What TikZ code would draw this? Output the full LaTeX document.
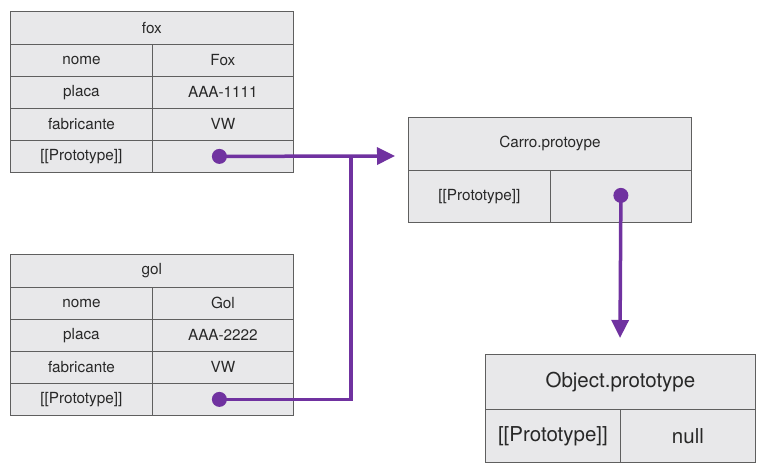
\documentclass[tikz,border=0pt]{standalone}
\usepackage{fontspec}
\setmainfont{TeX Gyre Heros}
\usepackage{tikz}
\usetikzlibrary{arrows.meta}

\definecolor{cellgray}{RGB}{232,232,234}
\definecolor{rulegray}{RGB}{95,95,95}
\definecolor{textgray}{RGB}{40,40,40}
\definecolor{protopurple}{RGB}{112,50,160}

\tikzset{
  cell/.style={draw=rulegray, line width=0.8pt, fill=cellgray, inner sep=0pt,
    anchor=north west, minimum height=32pt, text=textgray,
    font=\fontsize{15.3}{17}\selectfont},
  keycell/.style={cell, minimum width=142pt},
  valcell/.style={cell, minimum width=141pt},
  bigcell/.style={cell, minimum width=135pt, minimum height=53pt,
    font=\fontsize{20.5}{23}\selectfont},
  link/.style={draw=protopurple, line width=3.5pt},
  dot/.style={fill=protopurple},
}

\begin{document}
\begin{tikzpicture}[x=1pt, y=-1pt]
  \useasboundingbox (0, 0) rectangle (767, 470);

  % fox
  \node[cell, minimum width=283pt, minimum height=33pt] (fox) at (10, 11) {fox};
  \node[keycell] (foxnomek) at (10, 44) {nome};
  \node[valcell] (foxnomev) at (152, 44) {Fox};
  \node[keycell] (foxplacak) at (10, 76) {placa};
  \node[valcell] (foxplacav) at (152, 76) {AAA-1111};
  \node[keycell] (foxfabk) at (10, 108) {fabricante};
  \node[valcell] (foxfabv) at (152, 108) {VW};
  \node[keycell] (foxprotok) at (10, 140) {[[Prototype]]};
  \node[valcell] (foxprotov) at (152, 140) {};

  % gol
  \node[cell, minimum width=283pt, minimum height=33pt] (gol) at (10, 254) {gol};
  \node[keycell] (golnomek) at (10, 287) {nome};
  \node[valcell] (golnomev) at (152, 287) {Gol};
  \node[keycell] (golplacak) at (10, 319) {placa};
  \node[valcell] (golplacav) at (152, 319) {AAA-2222};
  \node[keycell] (golfabk) at (10, 351) {fabricante};
  \node[valcell] (golfabv) at (152, 351) {VW};
  \node[keycell] (golprotok) at (10, 383) {[[Prototype]]};
  \node[valcell] (golprotov) at (152, 383) {};

  % Carro.protoype
  \node[cell, minimum width=283pt, minimum height=53pt] (carro) at (408, 117) {Carro.protoype};
  \node[keycell, minimum height=52pt] (carroprotok) at (408, 170) {[[Prototype]]};
  \node[valcell, minimum height=52pt] (carroprotov) at (550, 170) {};

  % Object.prototype
  \node[bigcell, minimum width=270pt, minimum height=55pt] (object) at (485, 354) {Object.prototype};
  \node[bigcell] (objprotok) at (485, 409) {[[Prototype]]};
  \node[bigcell] (objprotov) at (620, 409) {null};

  % pointers
  \coordinate (foxdot) at ([xshift=-3.5pt]foxprotov.center);
  \coordinate (goldot) at ([xshift=-3.5pt]golprotov.center);
  \coordinate (carrodot) at ([yshift=1pt]carroprotov.center);
  \coordinate (carroin) at (395, 156);
  \coordinate (join) at (351, 156);
  \coordinate (objin) at (620, 338);

  \draw[link, -{Triangle[length=18pt, width=17pt]}] (foxdot) -- (carroin);
  \draw[link] (goldot) -| (join);
  \draw[link, -{Triangle[length=18pt, width=17pt]}] (carrodot) -- (objin);

  \fill[dot] (foxdot) circle (7.5);
  \fill[dot] (goldot) circle (7.5);
  \fill[dot] (carrodot) circle (7.5);
\end{tikzpicture}
\end{document}
